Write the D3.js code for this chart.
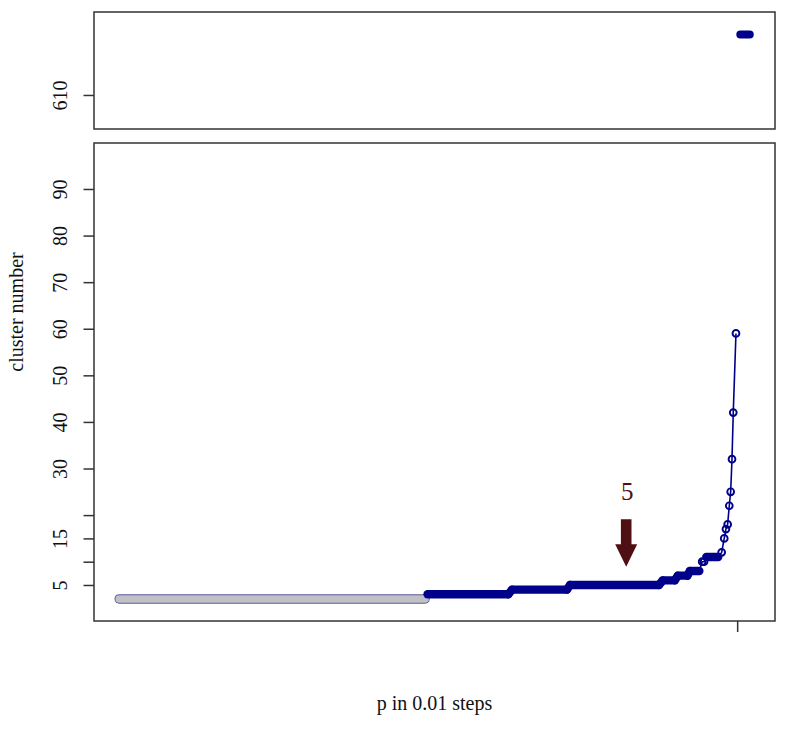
<!DOCTYPE html>
<html>
<head>
<meta charset="utf-8">
<script src="https://cdn.jsdelivr.net/npm/d3@7"></script>
<style>
  html, body { margin: 0; padding: 0; background: #fff; }
  svg { display: block; }
  text { font-family: "Liberation Serif", "Times New Roman", serif; fill: #111; }
</style>
</head>
<body>
<svg id="chart" width="789" height="729"></svg>
<script>
// ---------------- data ----------------
// p ranges where the cluster number stays constant: [pStart, pEnd, clusters]
const grayRuns = [[0.000, 0.485, 2]];
const blueRuns = [
  [0.489, 0.617, 3],
  [0.623, 0.710, 4],
  [0.715, 0.856, 5],
  [0.862, 0.881, 6],
  [0.886, 0.901, 7],
  [0.905, 0.920, 8],
  [0.931, 0.950, 11]
];
// individual points in the steep tail: [p, clusters]
const stepPoints = [[0.9245, 10], [0.9275, 10]];
const tailPoints = [
  [0.9554, 12], [0.9595, 15], [0.9622, 17], [0.9649, 18], [0.9675, 22],
  [0.9697, 25], [0.9718, 32], [0.9738, 42], [0.9781, 59]
];
// upper (broken-axis) panel
const topRuns = [[0.985, 1.000, 623]];

// axis ticks
const bottomYTicks = [5, 10, 15, 20, 30, 40, 50, 60, 70, 80, 90];
const bottomYLabels = ["5", "", "15", "", "30", "40", "50", "60", "70", "80", "90"];
const topYTicks = [610];
const topYLabels = ["610"];
const xTicks = [0.98];
const xTickLabels = [""];

// annotation
const arrowAnno = { p: 0.804, from: 19.1, to: 8.9, label: "5", labelAt: 23.2 };

const xTitle = "p in 0.01 steps";
const yTitle = "cluster number";

// ---------------- drawing ----------------
const svg = d3.select("#chart");
const NAVY = "#00008b";
const FRAME = "#333";
const FS = "20px";

const x = d3.scaleLinear().domain([-0.04, 1.04]).range([94, 775]);
const yB = d3.scaleLinear().domain([-2.73, 99.87]).range([621, 143]);
const yT = d3.scaleLinear().domain([602.7, 627.8]).range([129, 12]);

function frame(y0, y1) {
  svg.append("rect")
    .attr("x", x.range()[0]).attr("y", y0)
    .attr("width", x.range()[1] - x.range()[0]).attr("height", y1 - y0)
    .attr("fill", "none").attr("stroke", FRAME).attr("stroke-width", 1.5);
}
frame(12, 129);
frame(143, 621);

// y axes
function yAxis(scale, ticks, labels) {
  const g = svg.append("g").attr("transform", `translate(${x.range()[0]},0)`);
  const ax = d3.axisLeft(scale).tickValues(ticks)
    .tickFormat((d, i) => labels[i]).tickSize(10.5).tickPadding(0);
  g.call(ax);
  g.select(".domain").remove();
  g.selectAll(".tick line").attr("stroke", FRAME).attr("stroke-width", 1.5);
  g.selectAll(".tick text")
    .attr("x", 0).attr("y", 0).attr("dy", null)
    .attr("transform", "translate(-27,0) rotate(-90)")
    .attr("text-anchor", "middle")
    .attr("dominant-baseline", "auto")
    .style("font-family", '"Liberation Serif", serif')
    .style("font-size", FS).attr("fill", "#111");
}
yAxis(yB, bottomYTicks, bottomYLabels);
yAxis(yT, topYTicks, topYLabels);

// x axis (single unlabeled tick)
{
  const g = svg.append("g").attr("transform", `translate(0,621)`);
  g.call(d3.axisBottom(x).tickValues(xTicks).tickFormat((d, i) => xTickLabels[i]).tickSize(11));
  g.select(".domain").remove();
  g.selectAll(".tick line").attr("stroke", FRAME).attr("stroke-width", 1.5);
}

// axis titles
svg.append("text").attr("x", 434.5).attr("y", 710)
  .attr("text-anchor", "middle").style("font-size", FS).text(xTitle);
svg.append("text").attr("transform", "translate(23,312) rotate(-90)")
  .attr("text-anchor", "middle").style("font-size", FS).text(yTitle);

// connecting line through the whole series
const seq = [];
grayRuns.concat(blueRuns).forEach(r => { seq.push([r[0], r[2]]); seq.push([r[1], r[2]]); });
stepPoints.forEach(p => seq.push(p));
tailPoints.forEach(p => seq.push(p));
seq.sort((a, b) => a[0] - b[0]);
const line = d3.line().x(d => x(d[0])).y(d => yB(d[1]));
svg.append("path").attr("d", line(seq))
  .attr("fill", "none").attr("stroke", NAVY).attr("stroke-width", 1.6);

// gray runs (filled gray circles with navy rim, overlapping)
const runLine = (ys) => d3.line().x(d => x(d[0])).y(d => ys(d[1]));
grayRuns.forEach(r => {
  const d = runLine(yB)([[r[0], r[2]], [r[1], r[2]]]);
  svg.append("path").attr("d", d).attr("stroke", "#5a5a9a").attr("stroke-width", 9.5)
    .attr("stroke-linecap", "round").attr("fill", "none");
  svg.append("path").attr("d", d).attr("stroke", "#c0c0c6").attr("stroke-width", 7.6)
    .attr("stroke-linecap", "round").attr("fill", "none");
});

// blue runs
blueRuns.forEach(r => {
  svg.append("path").attr("d", runLine(yB)([[r[0], r[2]], [r[1], r[2]]]))
    .attr("stroke", NAVY).attr("stroke-width", 8.4)
    .attr("stroke-linecap", "round").attr("fill", "none");
});
// vertical joins between consecutive blue runs (overlapping circles)
for (let i = 1; i < blueRuns.length; i++) {
  const a = blueRuns[i - 1], b = blueRuns[i];
  if (b[2] - a[2] > 2) continue;
  svg.append("path").attr("d", runLine(yB)([[a[1], a[2]], [b[0], b[2]]]))
    .attr("stroke", NAVY).attr("stroke-width", 8.4)
    .attr("stroke-linecap", "round").attr("fill", "none");
}

// open circle points
svg.selectAll("circle.pt").data(stepPoints.concat(tailPoints)).join("circle")
  .attr("class", "pt")
  .attr("cx", d => x(d[0])).attr("cy", d => yB(d[1])).attr("r", 3.4)
  .attr("fill", "none").attr("stroke", NAVY).attr("stroke-width", 1.9);

// top panel run
topRuns.forEach(r => {
  svg.append("path").attr("d", runLine(yT)([[r[0], r[2]], [r[1], r[2]]]))
    .attr("stroke", NAVY).attr("stroke-width", 8)
    .attr("stroke-linecap", "round").attr("fill", "none");
});

// annotation arrow
{
  const ax = x(arrowAnno.p);
  const yTop = yB(arrowAnno.from), yTip = yB(arrowAnno.to);
  const headLen = 22.5, shaftHW = 5.3, headHW = 11;
  const yBase = yTip - headLen;
  const pts = [
    [ax - shaftHW, yTop], [ax + shaftHW, yTop], [ax + shaftHW, yBase],
    [ax + headHW, yBase], [ax, yTip], [ax - headHW, yBase], [ax - shaftHW, yBase]
  ];
  svg.append("path").attr("d", "M" + pts.map(p => p.join(",")).join("L") + "Z")
    .attr("fill", "#4e1012");
  svg.append("text").attr("x", ax + 1).attr("y", yB(arrowAnno.labelAt))
    .attr("text-anchor", "middle").style("font-size", "25px")
    .style("fill", "#4e1012").text(arrowAnno.label);
}
</script>
</body>
</html>
